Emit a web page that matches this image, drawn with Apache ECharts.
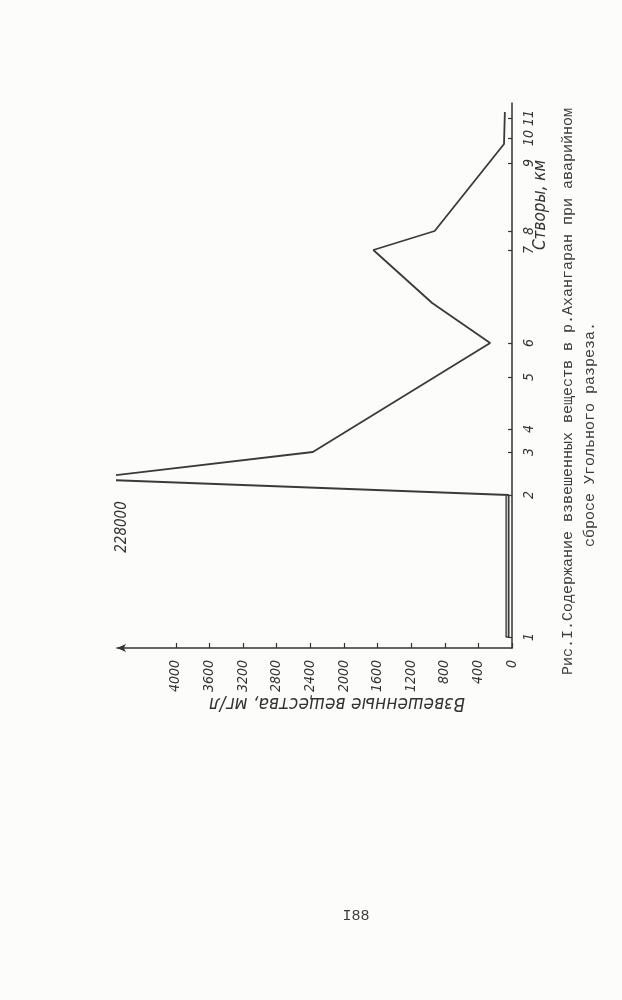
<!DOCTYPE html>
<html>
<head>
<meta charset="utf-8">
<script src="https://cdn.jsdelivr.net/npm/echarts@6/dist/echarts.min.js"></script>
<style>
html,body{margin:0;padding:0;background:#fcfcfa;}
#c{width:622px;height:1000px;}
</style>
</head>
<body>
<div id="c"></div>
<script>
// Stations (створы) and their positions along the river, km (estimated)
const stationLabels = ['1','2','3','4','5','6','7','8','9','10','11'];
const stationKm = [1.1, 15.3, 19.6, 21.9, 27.1, 30.5, 39.8, 41.7, 48.5, 51.0, 53.0];
// Concentration axis ticks, mg/l
const concTicks = [0,400,800,1200,1600,2000,2400,2800,3200,3600,4000];
// Main line: km positions and suspended matter, mg/l (peak runs off the axis: 228000)
const lineKm   = [1.1, 15.3, 16.9, 19.6, 30.5, 34.5, 39.8, 41.7, 50.4, 53.6];
const lineConc = [40, 40, 5100, 2370, 260, 950, 1650, 920, 95, 85];
// Second (double) stroke between stations 1 and 2
const strokeKm   = [1.1, 1.1, 15.2];
const strokeConc = [40, 70, 70];
const peakLabel = '228000';

const narrow = "'Liberation Sans Narrow','DejaVu Sans Condensed',sans-serif";
const mono = "'Liberation Mono','DejaVu Sans Mono',monospace";
const ink = '#333';

const chart = echarts.init(document.getElementById('c'), null, {renderer:'canvas'});
chart.setOption({
  backgroundColor: '#fcfcfa',
  animation: false,
  grid: {left: 117, right: 110, top: 103, bottom: 352, containLabel: false},
  xAxis: {
    type: 'value', min: 0, max: 4700, inverse: true,
    axisLine: {show: true, lineStyle: {color: ink, width: 1.5}, symbol: ['arrow','none'], symbolSize: [6, 9], onZero: false},
    axisTick: {show: true, inside: true, length: 5, lineStyle: {color: ink, width: 1.2}, customValues: concTicks},
    axisLabel: {show: true, rotate: 90, margin: 12, customValues: concTicks,
      formatter: v => String(v),
      fontFamily: narrow, fontStyle: 'italic', fontSize: 14, color: ink},
    splitLine: {show: false}
  },
  yAxis: {
    type: 'value', min: 0, max: 54.5, position: 'right',
    axisLine: {show: true, onZero: false, lineStyle: {color: ink, width: 1.5}},
    axisTick: {show: true, inside: true, length: 4, lineStyle: {color: ink, width: 1.2}, customValues: stationKm},
    axisLabel: {show: true, rotate: 90, margin: 10, customValues: stationKm,
      formatter: v => { const i = stationKm.findIndex(k => Math.abs(k - v) < 1e-6); return i >= 0 ? stationLabels[i] : ''; },
      fontFamily: narrow, fontStyle: 'italic', fontSize: 14, color: ink},
    splitLine: {show: false}
  },
  series: [
    {type: 'line', clip: true, symbol: 'none', smooth: false,
     lineStyle: {color: '#3a3a3a', width: 1.8},
     data: lineKm.map((k, i) => [lineConc[i], k])},
    {type: 'line', clip: true, symbol: 'none',
     lineStyle: {color: '#3a3a3a', width: 1.4},
     data: strokeKm.map((k, i) => [strokeConc[i], k])}
  ],
  graphic: [
    {type: 'text', x: 541, y: 205, rotation: Math.PI/2,
     style: {text: 'Створы, км', font: 'italic 17px ' + narrow, fill: ink, align: 'center', verticalAlign: 'middle'}},
    {type: 'text', x: 337, y: 703, rotation: Math.PI,
     style: {text: 'Взвешенные вещества, мг/л', font: 'italic 19px ' + narrow, fill: ink, align: 'center', verticalAlign: 'middle'}},
    {type: 'text', x: 122, y: 527, rotation: Math.PI/2,
     style: {text: peakLabel, font: 'italic 15px ' + narrow, fill: ink, align: 'center', verticalAlign: 'middle'}},
    {type: 'text', x: 568, y: 675, rotation: Math.PI/2,
     style: {text: 'Рис.I.Содержание взвешенных веществ в р.Ахангаран при аварийном', font: '15px ' + mono, fill: '#3c3c3c', align: 'left', verticalAlign: 'middle'}},
    {type: 'text', x: 590, y: 547, rotation: Math.PI/2,
     style: {text: 'сбросе Угольного разреза.', font: '15px ' + mono, fill: '#3c3c3c', align: 'left', verticalAlign: 'middle'}},
    {type: 'text', x: 356, y: 916,
     style: {text: 'I88', font: '15px ' + mono, fill: '#3c3c3c', align: 'center', verticalAlign: 'middle'}}
  ]
});
</script>
</body>
</html>
